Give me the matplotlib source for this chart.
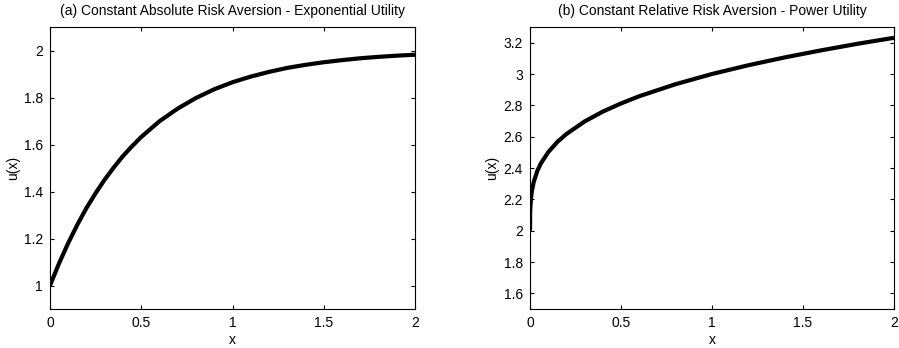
import matplotlib
matplotlib.use("Agg")
import matplotlib.pyplot as plt

# Panel (a): exponential utility
x_exp = [0.0, 0.05, 0.1, 0.15, 0.2, 0.25, 0.3, 0.35, 0.4, 0.45, 0.5, 0.6, 0.7, 0.8, 0.9,
         1.0, 1.1, 1.2, 1.3, 1.4, 1.5, 1.6, 1.7, 1.8, 1.9, 2.0]
u_exp = [1.000, 1.095, 1.181, 1.259, 1.330, 1.393, 1.451, 1.503, 1.551, 1.593, 1.632, 1.699,
         1.753, 1.798, 1.835, 1.865, 1.889, 1.909, 1.926, 1.939, 1.950, 1.959, 1.967, 1.973,
         1.978, 1.982]

# Panel (b): power utility
x_pow = [0.0, 0.001, 0.005, 0.01, 0.02, 0.04, 0.06, 0.1, 0.15, 0.2, 0.3, 0.4, 0.5, 0.6,
         0.8, 1.0, 1.2, 1.4, 1.6, 1.8, 2.0]
u_pow = [2.000, 2.126, 2.204, 2.251, 2.309, 2.381, 2.430, 2.501, 2.566, 2.617, 2.697, 2.760,
         2.812, 2.858, 2.935, 3.000, 3.056, 3.106, 3.151, 3.193, 3.231]

titles = ["(a) Constant Absolute Risk Aversion - Exponential Utility",
          "(b) Constant Relative Risk Aversion - Power Utility"]
xticks = [0, 0.5, 1, 1.5, 2]
xtick_labels = ["0", "0.5", "1", "1.5", "2"]
yticks_a = [1, 1.2, 1.4, 1.6, 1.8, 2]
ytick_labels_a = ["1", "1.2", "1.4", "1.6", "1.8", "2"]
yticks_b = [1.6, 1.8, 2, 2.2, 2.4, 2.6, 2.8, 3, 3.2]
ytick_labels_b = ["1.6", "1.8", "2", "2.2", "2.4", "2.6", "2.8", "3", "3.2"]

plt.rcParams['font.family'] = ['Liberation Sans', 'DejaVu Sans']
fs = 10

W, H = 899, 348
fig = plt.figure(figsize=(W / 100, H / 100), dpi=100)
ax1 = fig.add_axes([50 / W, 1 - 309 / H, 365 / W, 282 / H])
ax2 = fig.add_axes([530 / W, 1 - 309 / H, 364 / W, 282 / H])

panels = [(ax1, x_exp, u_exp, (0.9, 2.1), yticks_a, ytick_labels_a),
          (ax2, x_pow, u_pow, (1.5, 3.3), yticks_b, ytick_labels_b)]
for i, (ax, xs, ys, ylim, yt, ytl) in enumerate(panels):
    ax.plot(xs, ys, color='black', linewidth=3.0, solid_capstyle='butt')
    ax.set_xlim(0, 2)
    ax.set_ylim(*ylim)
    ax.set_xticks(xticks)
    ax.set_xticklabels(xtick_labels)
    ax.set_yticks(yt)
    ax.set_yticklabels(ytl)
    ax.tick_params(direction='in', top=True, right=True, length=3, width=0.8,
                   labelsize=fs)
    ax.tick_params(axis='y', pad=5)
    ax.tick_params(axis='x', pad=5)
    for s in ax.spines.values():
        s.set_linewidth(0.8)
    ax.set_title(titles[i], fontsize=fs, pad=9)
    ax.set_xlabel("x", fontsize=fs, labelpad=2)
    ax.set_ylabel("u(x)", fontsize=fs, labelpad=3)

fig.savefig("out.png", dpi=100)
